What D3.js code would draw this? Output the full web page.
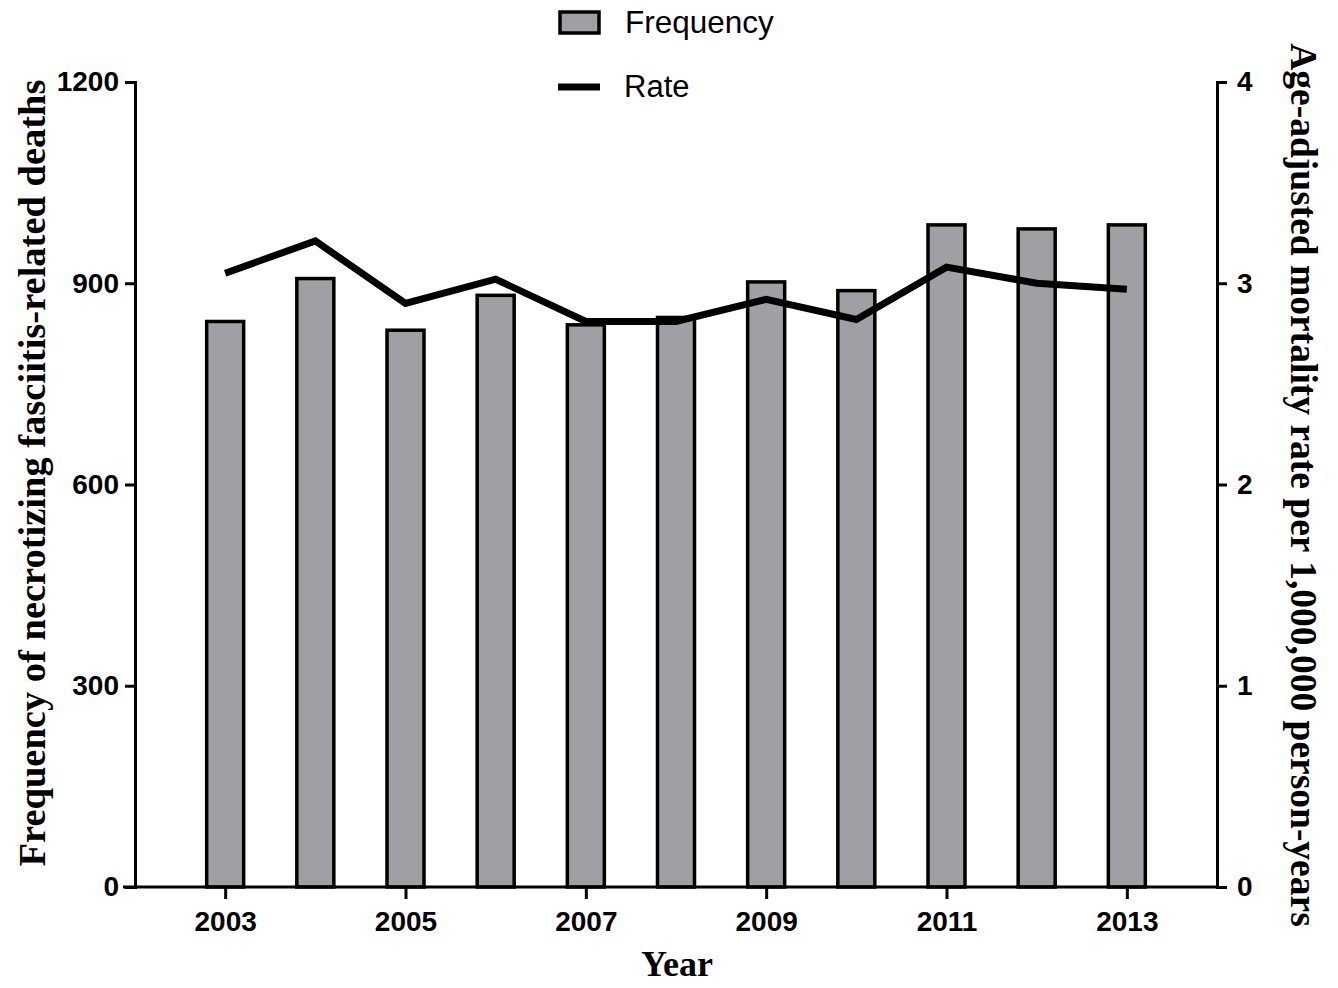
<!DOCTYPE html>
<html>
<head>
<meta charset="utf-8">
<script src="https://cdn.jsdelivr.net/npm/d3@7"></script>
<style>
  body { margin: 0; background: #fff; }
  svg { display: block; }
  .tick text { font-family: "Liberation Sans", Arial, sans-serif; font-weight: bold; font-size: 28px; fill: #000; }
</style>
</head>
<body>
<svg id="chart"></svg>
<script>
// data
const years = [2003, 2004, 2005, 2006, 2007, 2008, 2009, 2010, 2011, 2012, 2013];
const frequency = [843, 907, 830, 882, 838, 849, 902, 889, 987, 981, 987];
const rate = [3.05, 3.21, 2.90, 3.02, 2.81, 2.81, 2.92, 2.82, 3.08, 3.00, 2.97];
const leftTicks = [0, 300, 600, 900, 1200];
const rightTicks = [0, 1, 2, 3, 4];
const xTicks = [2003, 2005, 2007, 2009, 2011, 2013];

const width = 1338, height = 988;
const plotLeft = 135, plotRight = 1217, plotTop = 82, plotBottom = 887;

const svg = d3.select('#chart').attr('width', width).attr('height', height);

const x = d3.scaleLinear().domain([2002, 2014]).range([plotLeft, plotRight]);
const y = d3.scaleLinear().domain([0, 1200]).range([plotBottom, plotTop]);
const y2 = d3.scaleLinear().domain([0, 4]).range([plotBottom, plotTop]);

const barW = 37;

// bars
svg.append('g')
  .selectAll('rect')
  .data(years)
  .enter().append('rect')
  .attr('x', (d) => x(d) - barW / 2)
  .attr('y', (d, i) => y(frequency[i]))
  .attr('width', barW)
  .attr('height', (d, i) => plotBottom - y(frequency[i]))
  .attr('fill', '#a09fa4')
  .attr('stroke', '#000')
  .attr('stroke-width', 3.5);

// rate line
const line = d3.line()
  .x((d) => x(d[0]))
  .y((d) => y2(d[1]));

svg.append('path')
  .datum(years.map((d, i) => [d, rate[i]]))
  .attr('d', line)
  .attr('fill', 'none')
  .attr('stroke', '#000')
  .attr('stroke-width', 7);

// axes
const styleAxis = (g) => {
  g.selectAll('.domain').attr('stroke', '#000').attr('stroke-width', 3);
  g.selectAll('.tick line').attr('stroke', '#000').attr('stroke-width', 3);
};

svg.append('g')
  .attr('transform', `translate(${plotLeft},0)`)
  .call(d3.axisLeft(y).tickValues(leftTicks).tickFormat(d3.format('d')).tickSize(10).tickSizeOuter(10).tickPadding(6))
  .call(styleAxis);

svg.append('g')
  .attr('transform', `translate(${plotRight},0)`)
  .call(d3.axisRight(y2).tickValues(rightTicks).tickFormat(d3.format('d')).tickSize(10).tickSizeOuter(10).tickPadding(10))
  .call(styleAxis);

const xAxis = svg.append('g')
  .attr('transform', `translate(0,${plotBottom})`)
  .call(d3.axisBottom(x).tickValues(xTicks).tickFormat(d3.format('d')).tickSize(12).tickSizeOuter(0).tickPadding(12))
  .call(styleAxis);
xAxis.select('.domain').attr('d', `M${plotLeft - 12},0H${plotRight}`);

// axis titles
const serif = '"Liberation Serif", "Times New Roman", serif';

svg.append('text')
  .attr('x', 677).attr('y', 976)
  .attr('text-anchor', 'middle')
  .attr('font-family', serif).attr('font-weight', 'bold').attr('font-size', 36)
  .text('Year');

svg.append('text')
  .attr('transform', 'translate(45,473) rotate(-90)')
  .attr('text-anchor', 'middle')
  .attr('font-family', serif).attr('font-weight', 'bold').attr('font-size', 38.5)
  .text('Frequency of necrotizing fasciitis-related deaths');

svg.append('text')
  .attr('transform', 'translate(1291,485) rotate(90)')
  .attr('text-anchor', 'middle')
  .attr('font-family', serif).attr('font-weight', 'bold').attr('font-size', 37.5)
  .text('Age-adjusted mortality rate per 1,000,000 person-years');

// legend
const legend = svg.append('g');
legend.append('rect')
  .attr('x', 560).attr('y', 12).attr('width', 39).attr('height', 21)
  .attr('fill', '#a09fa4').attr('stroke', '#000').attr('stroke-width', 3.5);
legend.append('line')
  .attr('x1', 558).attr('x2', 600).attr('y1', 87).attr('y2', 87)
  .attr('stroke', '#000').attr('stroke-width', 7);
legend.append('text')
  .attr('x', 625).attr('y', 33)
  .attr('font-family', '"Liberation Sans", Arial, sans-serif').attr('font-size', 31.5)
  .text('Frequency');
legend.append('text')
  .attr('x', 624).attr('y', 97)
  .attr('font-family', '"Liberation Sans", Arial, sans-serif').attr('font-size', 31)
  .text('Rate');
</script>
</body>
</html>
